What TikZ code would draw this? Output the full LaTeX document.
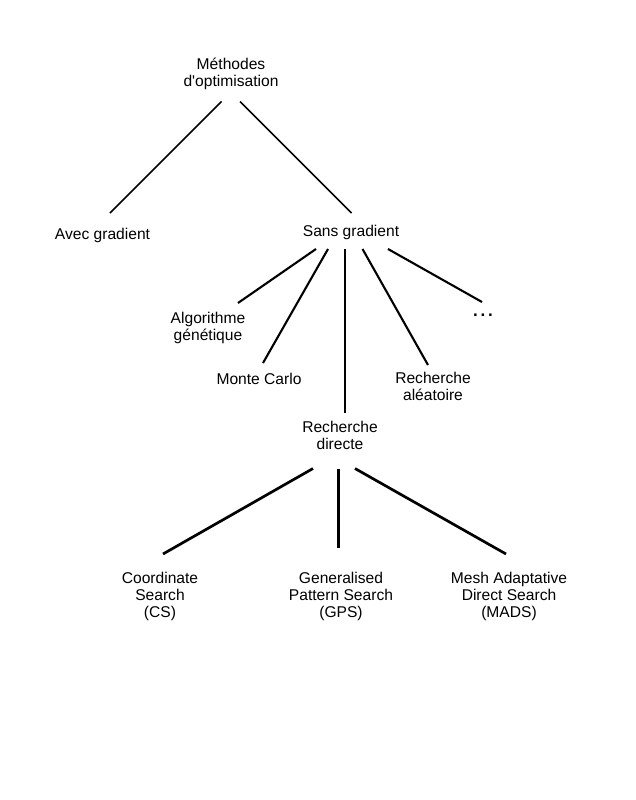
\documentclass[tikz,border=0pt]{standalone}
\usepackage{fontspec}
\setmainfont{Liberation Sans}
\begin{document}
\begin{tikzpicture}[x=1pt,y=-1pt,
  lbl/.style={inner sep=0pt,outer sep=0pt,align=center,anchor=north,font=\fontsize{15.6}{17}\selectfont},
  thin1/.style={line width=1.6pt},
  mid1/.style={line width=2.1pt},
  thick1/.style={line width=2.7pt}]
\useasboundingbox[fill=white] (0,0) rectangle (635,800);
\node[lbl] (root) at (231,57.7) {Méthodes\\d\textquotesingle optimisation};
\node[lbl] (avec) at (102.5,227.7) {Avec gradient};
\node[lbl] (sans) at (351,224.7) {Sans gradient};
\node[lbl] (alg) at (208,311.7) {Algorithme\\génétique};
\node[lbl] (monte) at (259,372.7) {Monte Carlo};
\node[lbl,anchor=base,font=\fontsize{17}{17}\selectfont\bfseries] (dots) at (483,316) {.\,.\,.};
\node[lbl] (alea) at (433,371.7) {Recherche\\aléatoire};
\node[lbl] (dir) at (340,420.7) {Recherche\\directe};
\node[lbl] (cs) at (160,571.7) {Coordinate\\Search\\(CS)};
\node[lbl] (gps) at (341,571.7) {Generalised\\Pattern Search\\(GPS)};
\node[lbl] (mads) at (509,571.7) {Mesh Adaptative\\Direct Search\\(MADS)};

\draw[thin1] ([shift={(-9.5,43.8)}]root.north) -- ([shift={(7.5,-14.7)}]avec.north);
\draw[thin1] ([shift={(9,43.8)}]root.north) -- ([shift={(0.5,-11.7)}]sans.north);

\draw[mid1] ([shift={(-35,24.3)}]sans.north) -- ([shift={(30,-8.7)}]alg.north);
\draw[mid1] ([shift={(-23,24.3)}]sans.north) -- ([shift={(4,-9.7)}]monte.north);
\draw[mid1] ([shift={(-6,24.3)}]sans.north) -- ([shift={(5,-7.7)}]dir.north);
\draw[mid1] ([shift={(11.5,24.3)}]sans.north) -- ([shift={(-5,-6.7)}]alea.north);
\draw[mid1] ([shift={(37,24.3)}]sans.north) -- ([shift={(-1,-14)}]dots.base);

\draw[thick1] ([shift={(-27,47.8)}]dir.north) -- ([shift={(3,-17.7)}]cs.north);
\draw[thick1] ([shift={(-1.5,48.3)}]dir.north) -- ([shift={(-2.5,-23.7)}]gps.north);
\draw[thick1] ([shift={(15,47.8)}]dir.north) -- ([shift={(-3,-17.7)}]mads.north);
\end{tikzpicture}
\end{document}
